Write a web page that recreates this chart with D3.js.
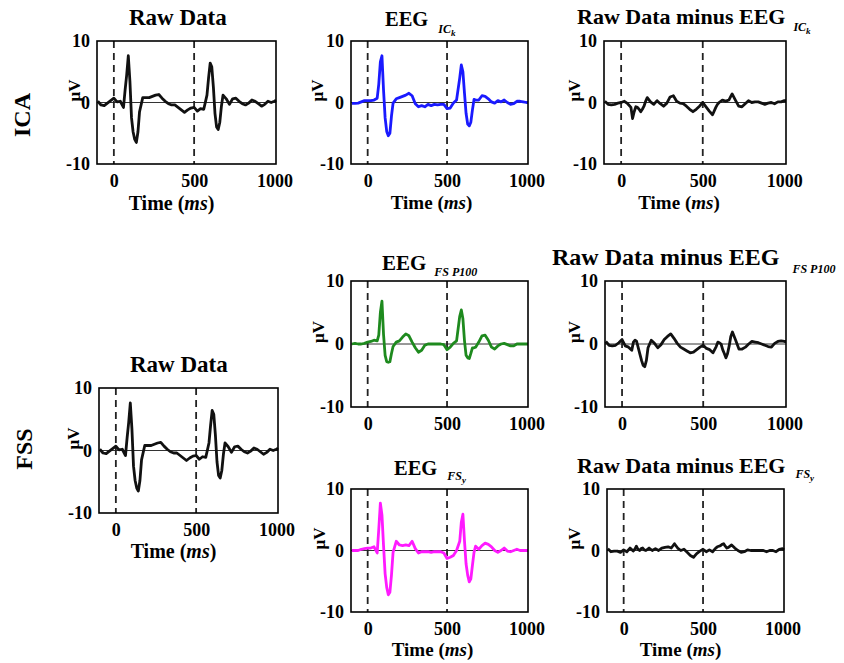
<!DOCTYPE html>
<html>
<head>
<meta charset="utf-8">
<script src="https://cdn.jsdelivr.net/npm/d3@7"></script>
<style>
  body { margin: 0; background: #fff; }
</style>
</head>
<body>
<script>
// time samples (ms) shared by every trace
var times = [-100, -80, -60, -40, -20, 0, 20, 40, 60,
  70, 80, 90, 100, 110, 120, 130, 140, 150, 160,
  180, 200, 220, 240, 260, 280, 300, 320, 340, 360, 380, 400, 420, 440, 460, 480, 500, 520, 540, 560, 580,
  590, 600, 610, 620, 630, 640, 650, 660, 670, 680,
  700, 720, 740, 760, 780, 800, 820, 840, 860, 880, 900, 920, 940, 960, 980, 1000,
  1010];

// amplitudes in microvolts
var rawData = [0.2, -0.4, -0.5, -0.1, 0.3, 0.7, 0.1, 0.2, -0.8,
  2.0, 4.5, 7.6, 3.5, -2.5, -4.8, -6.0, -6.5, -4.8, -1.5,
  0.8, 0.8, 0.8, 1.0, 1.2, 1.3, 0.7, 0.2, -0.2, -0.4, -0.4, -0.8, -1.2, -1.6, -1.2, -0.9, -0.8, -1.4, -1.0, -1.1, 1.2,
  4.0, 6.4, 5.8, 2.5, -1.8, -4.0, -4.4, -3.2, -0.6, 1.2,
  0.6, -0.3, 0.6, 0.7, 0.2, -0.2, -0.4, -0.1, 0.4, 0.2, -0.2, -0.6, -0.3, 0.2, 0.0, 0.2,
  0.4];

var eegICk = [-0.15, -0.15, -0.1, 0.1, 0.3, 0.3, 0.3, 0.4, 0.7,
  3.0, 6.6, 7.6, 2.0, -2.5, -4.7, -5.4, -5.0, -2.2, -0.1,
  0.6, 0.8, 1.0, 1.2, 1.5, 1.1, -0.2, -0.7, -0.5, -0.7, -0.3, -0.5, -0.3, -0.4, -0.3, -0.3, -1.0, -0.9, -0.1, 0.4, 4.0,
  6.1, 5.0, 1.5, -1.8, -3.5, -3.8, -3.2, -1.2, 0.5, 0.4,
  0.4, 1.1, 1.0, 0.6, 0.1, -0.1, 0.3, 0.1, 0.4, 0.0, -0.3, -0.2, 0.2, 0.2, 0.1, 0.0,
  0.0];

var rawMinusICk = [0.2, -0.3, -0.4, -0.3, -0.1, 0.0, 0.2, -0.2, -0.8,
  -2.6, -1.5, -0.7, -0.8, -1.1, -1.5, -1.1, -0.6, 0.2, 0.8,
  0.1, -0.3, 0.3, -0.2, -0.6, -0.1, 0.9, 1.1, 0.2, -0.1, -0.2, -0.6, -1.1, -1.5, -1.1, -0.6, 0.0, -0.7, -1.4, -2.0, -0.8,
  -0.3, 0.0, 0.2, 0.4, 0.3, 0.2, 0.3, 0.4, 0.9, 1.4,
  0.4, -0.6, -0.7, -0.2, 0.3, 0.0, 0.1, 0.1, -0.1, -0.3, -0.1, 0.0, -0.2, 0.1, 0.1, 0.3,
  0.3];

var eegFSP100 = [0.0, 0.1, 0.0, 0.0, 0.1, 0.3, 0.4, 0.6, 0.5,
  1.4, 5.0, 6.8, 1.5, -1.8, -2.8, -2.9, -2.8, -1.5, -0.4,
  0.3, 0.5, 1.1, 1.6, 1.3, 0.3, -0.6, -1.3, -1.0, -0.2, 0.0, 0.0, 0.0, 0.0, 0.0, -0.1, -0.9, -0.5, 0.1, 0.5, 4.4,
  5.4, 4.0, 0.5, -1.8, -2.2, -2.3, -1.5, -0.6, -0.6, -0.5,
  0.3, 1.3, 1.4, 0.6, -0.5, -0.8, -0.3, 0.0, 0.1, -0.1, -0.3, -0.3, 0.0, 0.0, 0.0, 0.0,
  0.0];

var rawMinusFSP100 = [0.4, -0.2, -0.3, -0.2, 0.2, 0.7, -0.3, -0.5, -1.0,
  0.3, 0.6, 0.4, -0.6, -1.6, -2.6, -3.4, -3.6, -2.6, -0.6,
  0.6, 0.1, -0.6, -0.1, 0.7, 1.2, 1.6, 0.9, 0.1, -0.5, -0.8, -1.1, -1.4, -1.3, -0.9, -0.5, -0.2, -0.7, -0.9, -1.4, -0.4,
  0.3, 0.2, 0.0, -0.9, -1.5, -2.2, -1.5, -0.3, 1.2, 1.9,
  0.6, -0.8, -0.8, -0.5, 0.0, 0.4, 0.3, 0.2, 0.0, -0.2, -0.4, -0.5, 0.1, 0.4, 0.5, 0.4,
  0.4];

var eegFSy = [0.0, 0.0, 0.0, 0.2, 0.3, 0.4, 0.4, 0.6, -0.4,
  3.5, 7.7, 5.8, 0.8, -3.8, -6.0, -7.2, -6.8, -4.0, -0.3,
  1.5, 0.9, 0.8, 0.9, 0.8, 1.5, 0.3, -0.4, -0.2, -0.2, -0.2, -0.3, -0.2, -0.2, -0.2, -0.4, -1.3, -1.1, -0.8, 0.0, 1.5,
  4.6, 5.9, 1.5, -2.2, -4.0, -5.1, -4.6, -2.4, -0.3, 0.7,
  0.2, 0.8, 1.2, 1.0, 0.6, 0.0, -0.3, 0.0, 0.4, -0.1, -0.2, 0.0, 0.2, 0.0, 0.0, 0.0,
  0.0];

var rawMinusFSy = [0.3, -0.2, -0.1, -0.1, -0.3, 0.1, -0.2, 0.4, -0.1,
  0.2, 0.7, 0.2, 0.0, 0.3, 0.4, 0.1, 0.0, 0.2, 0.4,
  0.0, 0.3, 0.0, 0.4, 0.5, 0.6, 0.4, 1.1, 0.4, 0.0, 0.2, -0.3, -0.8, -1.1, -0.5, -0.1, 0.2, -0.2, 0.1, -0.2, 0.4,
  0.6, 0.7, 0.8, 1.0, 1.1, 0.7, 0.4, 0.5, 0.7, 0.9,
  0.4, 0.0, -0.3, -0.2, 0.1, 0.0, 0.0, 0.0, 0.0, 0.0, -0.2, 0.0, 0.0, -0.2, 0.2, 0.3,
  0.1];

var xTicks = [0, 500, 1000];
var yTicks = [-10, 0, 10];
var markerTimes = [0, 500];
var rowLabels = ["ICA", "FSS"];

var serif = "'Liberation Serif', 'Times New Roman', serif";

// panel layout
var panels = [
  { left: 97, top: 41, w: 179, h: 123, values: rawData, color: "#111",
    title: { main: "Raw Data", x: 129, y: 25, size: 23 }, yLabDx: 23, time: { dy: 46, dx: -15, size: 20 } },
  { left: 351, top: 41, w: 177, h: 123, values: eegICk, color: "#1a1aff",
    title: { main: "EEG", sub: "IC", subSub: "k", x: 385, y: 26, size: 20.5, subDx: 10, subDy: 7 }, yLabDx: 34, time: { dy: 45, dx: -8, size: 19 } },
  { left: 604, top: 41, w: 182, h: 123, values: rawMinusICk, color: "#111",
    title: { main: "Raw Data minus EEG", sub: "IC", subSub: "k", x: 577, y: 24, size: 22, subDx: 8, subDy: 7 }, yLabDx: 30, time: { dy: 45, dx: -16, size: 19 } },
  { left: 351, top: 281, w: 177, h: 126, values: eegFSP100, color: "#1e8a1e",
    title: { main: "EEG", sub: "FS P100", x: 382, y: 270, size: 21, subDx: 8, subDy: 6 }, yLabDx: 33 },
  { left: 605, top: 281, w: 181, h: 126, values: rawMinusFSP100, color: "#111",
    title: { main: "Raw Data minus EEG", sub: "FS P100", x: 552, y: 265, size: 24, subDx: 13, subDy: 8 }, yLabDx: 31 },
  { left: 99, top: 388, w: 179, h: 125, values: rawData, color: "#111",
    title: { main: "Raw Data", x: 130, y: 372, size: 23 }, yLabDx: 26, time: { dy: 45, dx: -15, size: 20 } },
  { left: 351, top: 489, w: 177, h: 123, values: eegFSy, color: "#ff1aff",
    title: { main: "EEG", sub: "FS", subSub: "y", x: 394, y: 475, size: 20.5, subDx: 10, subDy: 5 }, yLabDx: 32, time: { dy: 44, dx: -7, size: 19 } },
  { left: 607, top: 489, w: 177, h: 123, values: rawMinusFSy, color: "#111",
    title: { main: "Raw Data minus EEG", sub: "FS", subSub: "y", x: 577, y: 473, size: 22, subDx: 10, subDy: 5 }, yLabDx: 33, time: { dy: 44, dx: -15, size: 19 } }
];

var svg = d3.select("body")
  .append("svg")
  .attr("width", 844)
  .attr("height", 663)
  .attr("font-family", serif);

panels.forEach(function(p) {
  var x = d3.scaleLinear().domain([-105, 1010]).range([0, p.w]);
  var y = d3.scaleLinear().domain([-10, 10]).range([p.h, 0]);

  var g = svg.append("g")
    .attr("transform", `translate(${p.left}, ${p.top})`);

  // zero line
  g.append("line")
    .attr("x1", 0).attr("x2", p.w)
    .attr("y1", y(0)).attr("y2", y(0))
    .attr("stroke", "#333")
    .attr("stroke-width", 1);

  // stimulus markers
  g.selectAll(".marker")
    .data(markerTimes)
    .enter()
    .append("line")
    .attr("class", "marker")
    .attr("x1", d => x(d)).attr("x2", d => x(d))
    .attr("y1", 0).attr("y2", p.h)
    .attr("stroke", "#222")
    .attr("stroke-width", 1.8)
    .attr("stroke-dasharray", "7,5");

  // trace
  var line = d3.line()
    .x((d, i) => x(times[i]))
    .y(d => y(d));

  g.append("path")
    .datum(p.values)
    .attr("d", line)
    .attr("fill", "none")
    .attr("stroke", p.color)
    .attr("stroke-width", 2.8)
    .attr("stroke-linejoin", "round");

  // frame
  g.append("rect")
    .attr("width", p.w)
    .attr("height", p.h)
    .attr("fill", "none")
    .attr("stroke", "#000")
    .attr("stroke-width", 1.6);

  // axes
  var yAxis = g.append("g")
    .call(d3.axisLeft(y).tickValues(yTicks).tickSize(0).tickPadding(7)
      .tickFormat(d => String(d)));
  var xAxis = g.append("g")
    .attr("transform", `translate(0, ${p.h})`)
    .call(d3.axisBottom(x).tickValues(xTicks).tickSize(0).tickPadding(10)
      .tickFormat(d => String(d)));
  [yAxis, xAxis].forEach(function(a) {
    a.select(".domain").remove();
    a.attr("font-family", serif)
      .attr("font-size", 18)
      .attr("font-weight", "bold");
    a.selectAll("text").attr("fill", "#000");
  });

  // y label
  g.append("text")
    .attr("transform", `translate(${-p.yLabDx}, ${y(0) - 12}) rotate(-90)`)
    .attr("text-anchor", "middle")
    .attr("dy", "0.35em")
    .attr("font-size", 17)
    .attr("font-weight", "bold")
    .text("\u03bcV");

  // x label
  if (p.time) {
    var t = g.append("text")
      .attr("x", p.w / 2 + p.time.dx)
      .attr("y", p.h + p.time.dy)
      .attr("text-anchor", "middle")
      .attr("font-size", p.time.size)
      .attr("font-weight", "bold");
    t.append("tspan").text("Time (");
    t.append("tspan").attr("font-style", "italic").text("ms");
    t.append("tspan").text(")");
  }

  // title
  var tt = svg.append("text")
    .attr("x", p.title.x)
    .attr("y", p.title.y)
    .attr("font-size", p.title.size)
    .attr("font-weight", "bold");
  tt.append("tspan").text(p.title.main);
  if (p.title.sub) {
    tt.append("tspan")
      .attr("dx", p.title.subDx)
      .attr("dy", p.title.subDy)
      .attr("font-size", 12)
      .attr("font-style", "italic")
      .text(p.title.sub);
  }
  if (p.title.subSub) {
    tt.append("tspan")
      .attr("dy", 3)
      .attr("font-size", 9)
      .attr("font-style", "italic")
      .text(p.title.subSub);
  }
});

// row labels
var rowPos = [[22, 115], [24, 449]];
svg.selectAll(".rowlab")
  .data(rowLabels)
  .enter()
  .append("text")
  .attr("class", "rowlab")
  .attr("transform", (d, i) => `translate(${rowPos[i][0]}, ${rowPos[i][1]}) rotate(-90)`)
  .attr("text-anchor", "middle")
  .attr("dy", "0.35em")
  .attr("font-size", 24)
  .attr("font-weight", "bold")
  .text(d => d);
</script>
</body>
</html>
